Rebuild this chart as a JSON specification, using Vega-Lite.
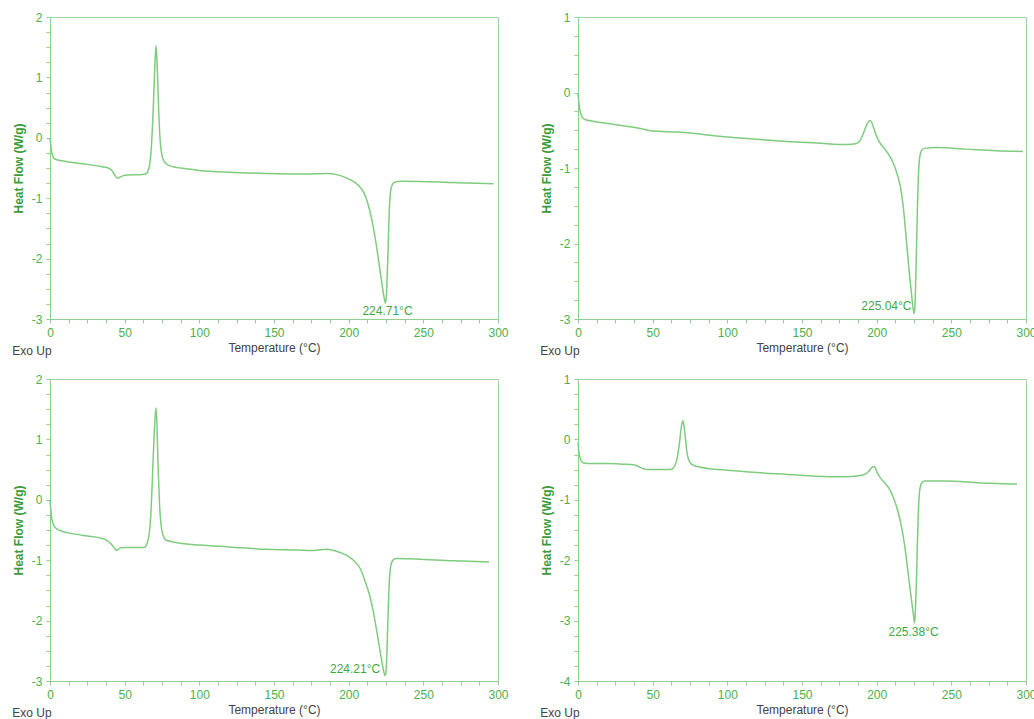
{
  "$schema": "https://vega.github.io/schema/vega-lite/v6.json",
  "background": "white",
  "padding": {"left": 11, "top": 10, "right": 0, "bottom": 0},
  "datasets": {
    "c1": [{"T":0,"v":0.0},{"T":0.5,"v":-0.12},{"T":1,"v":-0.22},{"T":1.5,"v":-0.28},{"T":2.5,"v":-0.33},{"T":4,"v":-0.36},{"T":8,"v":-0.38},{"T":15,"v":-0.41},{"T":25,"v":-0.44},{"T":35,"v":-0.48},{"T":39,"v":-0.50},{"T":41,"v":-0.53},{"T":43,"v":-0.60},{"T":45,"v":-0.67},{"T":47,"v":-0.65},{"T":50,"v":-0.62},{"T":55,"v":-0.61},{"T":60,"v":-0.61},{"T":64,"v":-0.60},{"T":65.5,"v":-0.56},{"T":67,"v":-0.40},{"T":68,"v":-0.10},{"T":69,"v":0.40},{"T":70,"v":1.05},{"T":71,"v":1.53},{"T":71.7,"v":1.25},{"T":72.5,"v":0.65},{"T":73.5,"v":0.05},{"T":74.5,"v":-0.22},{"T":75.5,"v":-0.34},{"T":77,"v":-0.41},{"T":80,"v":-0.46},{"T":90,"v":-0.51},{"T":100,"v":-0.54},{"T":120,"v":-0.57},{"T":145,"v":-0.59},{"T":170,"v":-0.60},{"T":185,"v":-0.59},{"T":192,"v":-0.61},{"T":198,"v":-0.66},{"T":203,"v":-0.72},{"T":207,"v":-0.80},{"T":210,"v":-0.90},{"T":213,"v":-1.10},{"T":215,"v":-1.30},{"T":217,"v":-1.55},{"T":219,"v":-1.85},{"T":221,"v":-2.20},{"T":222.5,"v":-2.45},{"T":224,"v":-2.68},{"T":224.7,"v":-2.74},{"T":225.3,"v":-2.60},{"T":226,"v":-2.15},{"T":226.7,"v":-1.60},{"T":227.3,"v":-1.15},{"T":228,"v":-0.90},{"T":229,"v":-0.79},{"T":230.5,"v":-0.74},{"T":235,"v":-0.72},{"T":260,"v":-0.73},{"T":280,"v":-0.75},{"T":297,"v":-0.76}],
    "c2": [{"T":0,"v":-0.02},{"T":0.5,"v":-0.12},{"T":1,"v":-0.2},{"T":2,"v":-0.29},{"T":3,"v":-0.33},{"T":5,"v":-0.36},{"T":10,"v":-0.38},{"T":20,"v":-0.41},{"T":30,"v":-0.44},{"T":40,"v":-0.47},{"T":50,"v":-0.51},{"T":60,"v":-0.52},{"T":72,"v":-0.53},{"T":85,"v":-0.56},{"T":100,"v":-0.59},{"T":120,"v":-0.62},{"T":140,"v":-0.65},{"T":160,"v":-0.67},{"T":180,"v":-0.69},{"T":186,"v":-0.68},{"T":189,"v":-0.63},{"T":191.5,"v":-0.52},{"T":193.5,"v":-0.42},{"T":195.3,"v":-0.37},{"T":196.5,"v":-0.39},{"T":198,"v":-0.47},{"T":200,"v":-0.58},{"T":202,"v":-0.66},{"T":205,"v":-0.74},{"T":208,"v":-0.82},{"T":211,"v":-0.93},{"T":214,"v":-1.10},{"T":216,"v":-1.26},{"T":218,"v":-1.55},{"T":220,"v":-1.98},{"T":222,"v":-2.42},{"T":223.5,"v":-2.70},{"T":225,"v":-2.93},{"T":225.6,"v":-2.85},{"T":226.2,"v":-2.45},{"T":226.8,"v":-1.95},{"T":227.4,"v":-1.45},{"T":228,"v":-1.08},{"T":228.8,"v":-0.86},{"T":230,"v":-0.77},{"T":232,"v":-0.74},{"T":240,"v":-0.73},{"T":260,"v":-0.75},{"T":280,"v":-0.77},{"T":298,"v":-0.78}],
    "c3": [{"T":0,"v":0.0},{"T":0.4,"v":-0.12},{"T":1,"v":-0.28},{"T":2,"v":-0.39},{"T":4,"v":-0.47},{"T":8,"v":-0.52},{"T":15,"v":-0.56},{"T":25,"v":-0.60},{"T":33,"v":-0.63},{"T":38,"v":-0.67},{"T":41,"v":-0.73},{"T":43,"v":-0.80},{"T":44.8,"v":-0.84},{"T":46.5,"v":-0.80},{"T":49,"v":-0.79},{"T":55,"v":-0.79},{"T":63,"v":-0.79},{"T":65,"v":-0.72},{"T":66.5,"v":-0.55},{"T":67.5,"v":-0.25},{"T":68.5,"v":0.30},{"T":69.5,"v":0.95},{"T":70.5,"v":1.40},{"T":71,"v":1.52},{"T":71.6,"v":1.25},{"T":72.4,"v":0.55},{"T":73.3,"v":-0.05},{"T":74.3,"v":-0.40},{"T":75.5,"v":-0.57},{"T":78,"v":-0.67},{"T":85,"v":-0.71},{"T":100,"v":-0.75},{"T":120,"v":-0.78},{"T":145,"v":-0.82},{"T":165,"v":-0.83},{"T":175,"v":-0.84},{"T":185,"v":-0.82},{"T":190,"v":-0.84},{"T":195,"v":-0.88},{"T":200,"v":-0.94},{"T":204,"v":-1.02},{"T":208,"v":-1.15},{"T":211,"v":-1.35},{"T":214,"v":-1.58},{"T":216.5,"v":-1.85},{"T":219,"v":-2.20},{"T":221,"v":-2.50},{"T":223,"v":-2.78},{"T":224.3,"v":-2.91},{"T":225,"v":-2.85},{"T":225.6,"v":-2.55},{"T":226.2,"v":-2.05},{"T":226.8,"v":-1.60},{"T":227.5,"v":-1.25},{"T":228.5,"v":-1.06},{"T":230,"v":-0.99},{"T":232,"v":-0.97},{"T":245,"v":-0.98},{"T":270,"v":-1.01},{"T":294,"v":-1.03}],
    "c4": [{"T":0,"v":-0.05},{"T":0.5,"v":-0.18},{"T":1,"v":-0.27},{"T":2,"v":-0.35},{"T":4,"v":-0.39},{"T":8,"v":-0.40},{"T":20,"v":-0.40},{"T":30,"v":-0.41},{"T":37,"v":-0.42},{"T":40,"v":-0.44},{"T":43,"v":-0.48},{"T":46,"v":-0.50},{"T":55,"v":-0.50},{"T":62,"v":-0.50},{"T":64.5,"v":-0.45},{"T":66.5,"v":-0.30},{"T":68,"v":-0.05},{"T":69.3,"v":0.22},{"T":70.2,"v":0.31},{"T":71,"v":0.22},{"T":72,"v":0.0},{"T":73,"v":-0.22},{"T":74.3,"v":-0.35},{"T":76,"v":-0.41},{"T":80,"v":-0.45},{"T":90,"v":-0.49},{"T":100,"v":-0.51},{"T":120,"v":-0.55},{"T":140,"v":-0.58},{"T":160,"v":-0.61},{"T":175,"v":-0.62},{"T":185,"v":-0.61},{"T":192,"v":-0.58},{"T":195,"v":-0.52},{"T":197,"v":-0.46},{"T":198.5,"v":-0.45},{"T":200,"v":-0.53},{"T":202,"v":-0.62},{"T":205,"v":-0.71},{"T":208,"v":-0.80},{"T":211,"v":-0.95},{"T":214,"v":-1.17},{"T":216.5,"v":-1.43},{"T":219,"v":-1.80},{"T":221,"v":-2.20},{"T":223,"v":-2.60},{"T":224.5,"v":-2.88},{"T":225.4,"v":-3.04},{"T":226,"v":-2.80},{"T":226.7,"v":-2.30},{"T":227.3,"v":-1.70},{"T":228,"v":-1.15},{"T":228.8,"v":-0.85},{"T":230,"v":-0.73},{"T":232,"v":-0.69},{"T":245,"v":-0.69},{"T":270,"v":-0.72},{"T":294,"v":-0.74}],
    "a1": [{"T":226,"v":-2.86,"label":"224.71°C"}],
    "a2": [{"T":223.3,"v":-2.83,"label":"225.04°C"}],
    "a3": [{"T":221.1,"v":-2.80,"label":"224.21°C"}],
    "a4": [{"T":224.7,"v":-3.19,"label":"225.38°C"}]
  },
  "concat": [
    {
      "width": 448, "height": 302,
      "title": {"text": "Exo Up", "orient": "bottom", "anchor": "start", "frame": "bounds", "offset": -7},
      "encoding": {
        "x": {"field": "T", "type": "quantitative", "scale": {"domain": [0, 300], "nice": false}, "axis": {"title": "Temperature (°C)", "values": [0,12.5,25,37.5,50,62.5,75,87.5,100,112.5,125,137.5,150,162.5,175,187.5,200,212.5,225,237.5,250,262.5,275,287.5,300], "labelExpr": "datum.value % 50 === 0 ? toString(datum.value) : ''"}},
        "y": {"field": "v", "type": "quantitative", "scale": {"domain": [-3, 2], "nice": false, "zero": false}, "axis": {"title": "Heat Flow (W/g)", "values": [-3,-2.75,-2.5,-2.25,-2,-1.75,-1.5,-1.25,-1,-0.75,-0.5,-0.25,0,0.25,0.5,0.75,1,1.25,1.5,1.75,2], "labelExpr": "datum.value % 1 === 0 ? toString(datum.value) : ''"}}
      },
      "layer": [
        {"data": {"name": "c1"}, "mark": {"type": "line", "color": "#7fcc7f", "strokeWidth": 1.5, "interpolate": "monotone"}},
        {"data": {"name": "a1"}, "mark": {"type": "text", "color": "#3fa83f", "fontSize": 12, "font": "Liberation Sans", "align": "center", "baseline": "middle"}, "encoding": {"text": {"field": "label"}}}
      ]
    },
    {
      "width": 448, "height": 302,
      "title": {"text": "Exo Up", "orient": "bottom", "anchor": "start", "frame": "bounds", "offset": -7},
      "encoding": {
        "x": {"field": "T", "type": "quantitative", "scale": {"domain": [0, 300], "nice": false}, "axis": {"title": "Temperature (°C)", "values": [0,12.5,25,37.5,50,62.5,75,87.5,100,112.5,125,137.5,150,162.5,175,187.5,200,212.5,225,237.5,250,262.5,275,287.5,300], "labelExpr": "datum.value % 50 === 0 ? toString(datum.value) : ''"}},
        "y": {"field": "v", "type": "quantitative", "scale": {"domain": [-3, 1], "nice": false, "zero": false}, "axis": {"title": "Heat Flow (W/g)", "values": [-3,-2.75,-2.5,-2.25,-2,-1.75,-1.5,-1.25,-1,-0.75,-0.5,-0.25,0,0.25,0.5,0.75,1], "labelExpr": "datum.value % 1 === 0 ? toString(datum.value) : ''"}}
      },
      "layer": [
        {"data": {"name": "c2"}, "mark": {"type": "line", "color": "#7fcc7f", "strokeWidth": 1.5, "interpolate": "monotone"}},
        {"data": {"name": "a2"}, "mark": {"type": "text", "color": "#3fa83f", "fontSize": 12, "font": "Liberation Sans", "align": "right", "baseline": "middle"}, "encoding": {"text": {"field": "label"}}}
      ]
    },
    {
      "width": 448, "height": 302,
      "title": {"text": "Exo Up", "orient": "bottom", "anchor": "start", "frame": "bounds", "offset": -7},
      "encoding": {
        "x": {"field": "T", "type": "quantitative", "scale": {"domain": [0, 300], "nice": false}, "axis": {"title": "Temperature (°C)", "values": [0,12.5,25,37.5,50,62.5,75,87.5,100,112.5,125,137.5,150,162.5,175,187.5,200,212.5,225,237.5,250,262.5,275,287.5,300], "labelExpr": "datum.value % 50 === 0 ? toString(datum.value) : ''"}},
        "y": {"field": "v", "type": "quantitative", "scale": {"domain": [-3, 2], "nice": false, "zero": false}, "axis": {"title": "Heat Flow (W/g)", "values": [-3,-2.75,-2.5,-2.25,-2,-1.75,-1.5,-1.25,-1,-0.75,-0.5,-0.25,0,0.25,0.5,0.75,1,1.25,1.5,1.75,2], "labelExpr": "datum.value % 1 === 0 ? toString(datum.value) : ''"}}
      },
      "layer": [
        {"data": {"name": "c3"}, "mark": {"type": "line", "color": "#7fcc7f", "strokeWidth": 1.5, "interpolate": "monotone"}},
        {"data": {"name": "a3"}, "mark": {"type": "text", "color": "#3fa83f", "fontSize": 12, "font": "Liberation Sans", "align": "right", "baseline": "middle"}, "encoding": {"text": {"field": "label"}}}
      ]
    },
    {
      "width": 448, "height": 302,
      "title": {"text": "Exo Up", "orient": "bottom", "anchor": "start", "frame": "bounds", "offset": -7},
      "encoding": {
        "x": {"field": "T", "type": "quantitative", "scale": {"domain": [0, 300], "nice": false}, "axis": {"title": "Temperature (°C)", "values": [0,12.5,25,37.5,50,62.5,75,87.5,100,112.5,125,137.5,150,162.5,175,187.5,200,212.5,225,237.5,250,262.5,275,287.5,300], "labelExpr": "datum.value % 50 === 0 ? toString(datum.value) : ''"}},
        "y": {"field": "v", "type": "quantitative", "scale": {"domain": [-4, 1], "nice": false, "zero": false}, "axis": {"title": "Heat Flow (W/g)", "values": [-4,-3.75,-3.5,-3.25,-3,-2.75,-2.5,-2.25,-2,-1.75,-1.5,-1.25,-1,-0.75,-0.5,-0.25,0,0.25,0.5,0.75,1], "labelExpr": "datum.value % 1 === 0 ? toString(datum.value) : ''"}}
      },
      "layer": [
        {"data": {"name": "c4"}, "mark": {"type": "line", "color": "#7fcc7f", "strokeWidth": 1.5, "interpolate": "monotone"}},
        {"data": {"name": "a4"}, "mark": {"type": "text", "color": "#3fa83f", "fontSize": 12, "font": "Liberation Sans", "align": "center", "baseline": "middle"}, "encoding": {"text": {"field": "label"}}}
      ]
    }
  ],
  "columns": 2,
  "spacing": {"row": 14, "column": 30},
  "config": {
    "view": {"stroke": "#9fd69f", "strokeWidth": 1},
    "font": "Liberation Sans",
    "title": {"font": "Liberation Sans", "fontSize": 12, "fontWeight": "normal", "color": "#444444"},
    "axis": {"grid": false, "labelFont": "Liberation Sans", "labelFontSize": 12, "labelColor": "#4cb04c", "labelFlush": false, "labelOverlap": false, "labelPadding": 4, "domainColor": "#8fd08f", "tickColor": "#8fd08f", "tickSize": 4, "titleFont": "Liberation Sans", "titleFontSize": 12},
    "axisX": {"titleColor": "#444444", "titleFontWeight": "normal", "titlePadding": 4},
    "axisY": {"titleColor": "#3a9c3a", "titleFontWeight": "bold", "titleFontSize": 12, "titlePadding": 6}
  }
}
